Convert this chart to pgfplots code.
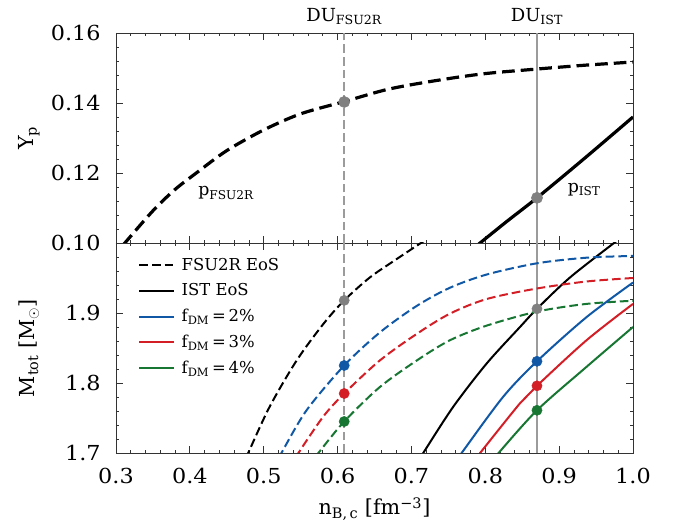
\documentclass[border=0pt]{standalone}
\usepackage{pgfplots}
\pgfplotsset{compat=1.18}
\usepackage{fontspec}
\setmainfont{DejaVu Serif}
\newfontfamily\tickfont{DejaVu Serif}[FakeStretch=1.08]
\definecolor{cblue}{RGB}{16,88,166}
\definecolor{cred}{RGB}{212,30,38}
\definecolor{cgreen}{RGB}{22,118,50}
\definecolor{lgray}{RGB}{155,155,155}
\definecolor{dgray}{RGB}{128,128,128}
\newcommand{\sub}[1]{\textsubscript{#1}}
\begin{document}
\begin{tikzpicture}
\pgfplotsset{
 common/.style={
  scale only axis, width=387.75pt, height=157.5pt,
  xmin=0.3, xmax=1.0,
  xtick={0.3,0.4,0.5,0.6,0.7,0.8,0.9,1.0},
  minor x tick num=4, minor y tick num=4,
  tick align=inside, xtick pos=both, ytick pos=both,
  major tick length=5pt, minor tick length=2.6pt,
  every tick/.style={black!80, line width=0.6pt},
  axis line style={line width=0.7pt, black!80},
  tick label style={font=\tickfont\fontsize{15.5}{18}\selectfont},
  xticklabel style={yshift=-7.5pt},
  yticklabel style={xshift=-8pt},
  label style={font=\fontsize{15.5}{18}\selectfont},
  /pgf/number format/assume math mode=true,
  clip mode=individual,
  ylabel style={at={(axis description cs:-0.168,0.5)}, anchor=center},
 },
 dl/.style={dash pattern=on 9.5pt off 4.5pt},
 ds/.style={dash pattern=on 6.5pt off 3pt},
}
\path[use as bounding box] (-87pt,-55.5pt) rectangle (420pt,339.75pt);
% ---------------- top panel
\begin{axis}[common, at={(0,157.5pt)}, anchor=south west,
  ymin=0.10, ymax=0.16, ytick={0.10,0.12,0.14,0.16},
  yticklabels={0.10,0.12,0.14,0.16}, xticklabels={},
  ylabel={Y\sub{p}}]
\addplot[lgray, line width=1.8pt, dash pattern=on 6.5pt off 3pt] coordinates {(0.609,0.10) (0.609,0.16)};
\addplot[lgray, line width=1.8pt] coordinates {(0.870,0.10) (0.870,0.16)};
\addplot[black, line width=2.4pt, dl, smooth] coordinates {
 (0.310,0.0995) (0.350,0.1092) (0.380,0.1153) (0.410,0.1202) (0.450,0.1264) (0.500,0.1323)
 (0.550,0.1369) (0.609,0.1404) (0.670,0.1440) (0.739,0.1466) (0.800,0.1484) (0.870,0.1497) (0.935,0.1508) (1.0,0.1517)};
\addplot[black, line width=2.4pt, smooth] coordinates {
 (0.790,0.0995) (0.830,0.1063) (0.870,0.1129) (0.935,0.1243) (1.0,0.1360)};
\addplot[only marks, mark=*, mark size=4.2pt, mark options={draw=dgray, fill=dgray}] coordinates {(0.609,0.1403) (0.870,0.1129)};
\node[font=\fontsize{13.5}{16}\selectfont, anchor=base] at (axis cs:0.609,0.16) [yshift=8.5pt] {DU\sub{FSU2R}};
\node[font=\fontsize{13.5}{16}\selectfont, anchor=base] at (axis cs:0.870,0.16) [yshift=8.5pt] {DU\sub{IST}};
\node[font=\fontsize{13}{16}\selectfont] at (axis cs:0.449,0.1143) {p\sub{FSU2R}};
\node[font=\fontsize{13}{16}\selectfont] at (axis cs:0.934,0.1153) {p\sub{IST}};
\end{axis}
% ---------------- bottom panel
\begin{axis}[common, at={(0,0)}, anchor=south west,
  ymin=1.7, ymax=2.0, ytick={1.7,1.8,1.9,2.0},
  yticklabels={1.7,1.8,1.9,},
  xticklabels={0.3,0.4,0.5,0.6,0.7,0.8,0.9,1.0},
  ylabel={M\sub{tot} [M\sub{$\odot$}]},
  xlabel={n\sub{B,\,c} [fm\textsuperscript{−3}]},
  xlabel style={at={(axis description cs:0.5,0)}, anchor=base, yshift=-46.5pt},
  legend style={at={(0.035,0.955)}, anchor=north west, draw=none, fill=none,
    font=\fontsize{12.3}{14}\selectfont, row sep=4.6pt,
    nodes={inner sep=2pt}},
  legend cell align=left,
  legend image code/.code={\draw[#1] (0pt,0pt) -- (26pt,0pt);},
  ]
\addplot[lgray, line width=1.8pt, dash pattern=on 6.5pt off 3pt, forget plot] coordinates {(0.609,1.7) (0.609,2.0)};
\addplot[lgray, line width=1.8pt, forget plot] coordinates {(0.870,1.7) (0.870,2.0)};
% FSU2R dashed
\addplot[black, line width=1.5pt, ds, smooth] coordinates {
 (0.476,1.693) (0.479,1.700) (0.508,1.766) (0.5445,1.832) (0.5805,1.884) (0.609,1.918) (0.644,1.951) (0.680,1.977) (0.707,1.996) (0.725,2.008)};
\addlegendentry{\hspace{3pt}FSU2R EoS}
% IST solid
\addplot[black, line width=1.5pt, smooth] coordinates {
 (0.713,1.695) (0.716,1.700) (0.7566,1.766) (0.802,1.828) (0.847,1.880) (0.870,1.906) (0.915,1.951) (0.978,2.003) (0.995,2.016)};
\addlegendentry{\hspace{3pt}IST EoS}
\addlegendimage{cblue, line width=1.5pt}
\addlegendentry{\hspace{3pt}f\sub{DM}\,=\,2\%}
\addlegendimage{cred, line width=1.5pt}
\addlegendentry{\hspace{3pt}f\sub{DM}\,=\,3\%}
\addlegendimage{cgreen, line width=1.5pt}
\addlegendentry{\hspace{3pt}f\sub{DM}\,=\,4\%}
% DM dashed (FSU2R)
\addplot[cblue, line width=1.5pt, ds, smooth, forget plot] coordinates {
 (0.522,1.695) (0.524,1.700) (0.558,1.761) (0.609,1.825) (0.657,1.872) (0.707,1.910) (0.752,1.936) (0.802,1.955) (0.870,1.971) (0.937,1.979) (1.0,1.9815)};
\addplot[cred, line width=1.5pt, ds, smooth, forget plot] coordinates {
 (0.545,1.695) (0.547,1.700) (0.5806,1.752) (0.609,1.785) (0.657,1.832) (0.707,1.870) (0.752,1.899) (0.802,1.920) (0.870,1.935) (0.937,1.945) (1.0,1.950)};
\addplot[cgreen, line width=1.5pt, ds, smooth, forget plot] coordinates {
 (0.572,1.696) (0.574,1.700) (0.609,1.745) (0.657,1.794) (0.707,1.832) (0.752,1.861) (0.802,1.882) (0.870,1.902) (0.937,1.913) (1.0,1.9175)};
% DM solid (IST)
\addplot[cblue, line width=1.5pt, smooth, forget plot] coordinates {
 (0.765,1.695) (0.768,1.700) (0.824,1.780) (0.870,1.831) (0.937,1.894) (1.0,1.9435)};
\addplot[cred, line width=1.5pt, smooth, forget plot] coordinates {
 (0.790,1.695) (0.793,1.700) (0.847,1.771) (0.870,1.796) (0.937,1.861) (1.0,1.913)};
\addplot[cgreen, line width=1.5pt, smooth, forget plot] coordinates {
 (0.815,1.695) (0.818,1.700) (0.870,1.761) (0.937,1.823) (1.0,1.880)};
% dots
\addplot[only marks, mark=*, mark size=3.8pt, mark options={draw=dgray, fill=dgray}, forget plot] coordinates {(0.609,1.918) (0.870,1.906)};
\addplot[only marks, mark=*, mark size=3.8pt, mark options={draw=cblue, fill=cblue}, forget plot] coordinates {(0.609,1.825) (0.870,1.831)};
\addplot[only marks, mark=*, mark size=3.8pt, mark options={draw=cred, fill=cred}, forget plot] coordinates {(0.609,1.785) (0.870,1.796)};
\addplot[only marks, mark=*, mark size=3.8pt, mark options={draw=cgreen, fill=cgreen}, forget plot] coordinates {(0.609,1.745) (0.870,1.761)};
\end{axis}
\end{tikzpicture}
\end{document}
